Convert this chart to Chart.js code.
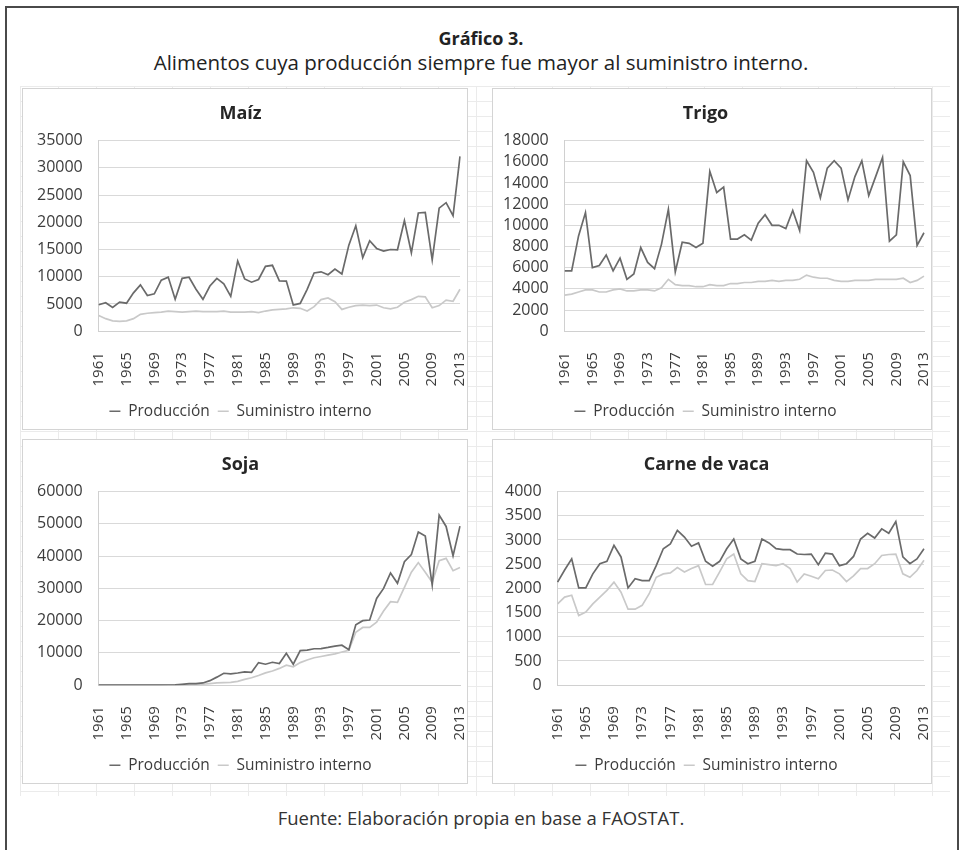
<!DOCTYPE html>
<html>
<head>
<meta charset="utf-8">
<script src="https://cdn.jsdelivr.net/npm/chart.js@4.4.1/dist/chart.umd.min.js"></script>
<style>
  body { margin: 0; background: #fff; font-family: "Open Sans", sans-serif; }
  .frame { position: absolute; left: 5px; top: 6px; width: 950px; height: 900px;
           border-left: 2px solid #4a4a4a; border-top: 2px solid #4a4a4a; border-right: 2px solid #4a4a4a; }
  .sheet { position: absolute; left: 20px; top: 86px; width: 930px; height: 710px;
           background-image: linear-gradient(#ebebeb 1px, transparent 1px), linear-gradient(90deg, #ebebeb 1px, transparent 1px);
           background-size: 38px 15px; }
  .panel { position: absolute; background: #fff; border: 1px solid #d4d4d4; box-sizing: border-box; }
  .h1 { position: absolute; left: 0; width: 962px; top: 26px; text-align: center; font-weight: bold; font-size: 18px; color: #222; }
  .h2 { position: absolute; left: 0; width: 962px; top: 48px; text-align: center; font-size: 20.5px; color: #222; }
  .foot { position: absolute; left: 0; width: 962px; top: 805px; text-align: center; font-size: 18.5px; color: #333; }
</style>
</head>
<body>
<div class="frame"></div>
<div class="sheet"></div>
<div class="h1">Gráfico 3.</div>
<div class="h2">Alimentos cuya producción siempre fue mayor al suministro interno.</div>
<div class="panel" style="left:22px;top:88px;width:446px;height:342px"><canvas id="c1"></canvas></div>
<div class="panel" style="left:492px;top:88px;width:440px;height:342px"><canvas id="c2"></canvas></div>
<div class="panel" style="left:22px;top:439px;width:446px;height:345px"><canvas id="c3"></canvas></div>
<div class="panel" style="left:492px;top:439px;width:440px;height:345px"><canvas id="c4"></canvas></div>
<div class="foot">Fuente: Elaboración propia en base a FAOSTAT.</div>
<script>
const years = ['1961','1962','1963','1964','1965','1966','1967','1968','1969','1970',
  '1971','1972','1973','1974','1975','1976','1977','1978','1979','1980',
  '1981','1982','1983','1984','1985','1986','1987','1988','1989','1990',
  '1991','1992','1993','1994','1995','1996','1997','1998','1999','2000',
  '2001','2002','2003','2004','2005','2006','2007','2008','2009','2010',
  '2011','2012','2013'];

// miles de toneladas
const maizProd = [4850,5220,4360,5350,5140,7040,8510,6560,6860,9360,
  9930,5860,9700,9900,7700,5860,8300,9700,8700,6400,
  12900,9600,9000,9500,11900,12100,9250,9200,4800,5100,
  7680,10700,10900,10360,11400,10500,15800,19360,13500,16600,
  15200,14700,15000,14950,20300,14400,21700,21800,13100,22600,
  23600,21200,32100];
const maizSum = [2900,2300,1900,1800,1900,2300,3100,3300,3400,3500,
  3700,3600,3500,3600,3700,3600,3600,3600,3700,3500,
  3500,3500,3600,3400,3700,3900,4000,4100,4300,4200,
  3700,4500,5800,6100,5400,4000,4400,4700,4800,4700,
  4800,4300,4100,4400,5300,5800,6400,6300,4300,4700,
  5700,5500,7700];

const trigoProd = [5700,5700,9000,11200,6000,6200,7200,5700,6900,4900,
  5400,7900,6500,5900,8200,11500,5600,8400,8300,7900,
  8300,15100,13100,13600,8700,8700,9100,8600,10200,11000,
  10000,10000,9700,11400,9500,16100,15000,12600,15400,16100,
  15400,12400,14600,16100,12800,14600,16400,8500,9100,16000,
  14700,8100,9300];
const trigoSum = [3400,3500,3700,3900,3900,3700,3700,3900,4000,3800,
  3800,3900,3900,3800,4100,4900,4400,4300,4300,4200,
  4200,4400,4300,4300,4500,4500,4600,4600,4700,4700,
  4800,4700,4800,4800,4900,5300,5100,5000,5000,4800,
  4700,4700,4800,4800,4800,4900,4900,4900,4900,5000,
  4600,4800,5200];

const sojaProd = [1,1,1,20,17,20,20,22,32,27,
  59,78,272,496,485,695,1400,2500,3700,3500,
  3770,4150,4000,7000,6500,7100,6700,9900,6500,10700,
  10860,11300,11350,11700,12100,12400,11000,18700,20000,20200,
  26900,30000,34800,31600,38300,40500,47500,46200,31000,52700,
  49200,40100,49300];
const sojaSum = [0,0,0,10,10,10,10,10,20,20,
  40,60,150,250,300,300,500,700,800,900,
  1200,1800,2300,3000,3800,4400,5200,6200,5700,7000,
  7800,8500,8900,9300,9700,10300,10800,16400,17900,17900,
  19500,23000,25900,25700,30300,35000,38000,35000,31900,38600,
  39300,35500,36500];

const carneProd = [2130,2380,2610,2010,2010,2300,2510,2560,2890,2650,
  2010,2200,2160,2160,2470,2820,2920,3200,3060,2870,
  2940,2560,2460,2560,2820,3020,2610,2510,2560,3020,
  2940,2820,2800,2800,2710,2700,2710,2490,2730,2710,
  2470,2510,2660,3020,3140,3040,3230,3140,3380,2650,
  2510,2610,2820];
const carneSum = [1680,1820,1860,1440,1510,1680,1820,1960,2130,1920,
  1570,1570,1650,1890,2230,2300,2320,2430,2340,2410,
  2470,2080,2080,2340,2610,2710,2300,2160,2140,2510,
  2490,2470,2510,2410,2130,2300,2250,2200,2370,2380,
  2300,2140,2260,2410,2410,2510,2680,2700,2710,2300,
  2230,2370,2580];

const darkGray = '#6a6a6a';
const lightGray = '#c9c9c9';
const textCol = '#3c3c3c';

function makeChart(id, title, prod, sum, yMax, yStep, padLeft) {
  return new Chart(document.getElementById(id), {
    type: 'line',
    data: {
      labels: years,
      datasets: [
        { label: 'Producción', data: prod, borderColor: darkGray, backgroundColor: darkGray,
          borderWidth: 1.7, pointRadius: 0, tension: 0 },
        { label: 'Suministro interno', data: sum, borderColor: lightGray, backgroundColor: lightGray,
          borderWidth: 1.7, pointRadius: 0, tension: 0 }
      ]
    },
    options: {
      responsive: true,
      maintainAspectRatio: false,
      animation: false,
      layout: { padding: { left: padLeft, right: 7, top: 0, bottom: 0 } },
      plugins: {
        title: { display: true, text: title, color: '#262626',
                 font: { family: 'Open Sans', size: 18, weight: 'bold' }, padding: { top: 14, bottom: 16 } },
        legend: {
          position: 'bottom',
          labels: { usePointStyle: true, pointStyle: 'line', pointStyleWidth: 11, color: textCol,
                    font: { family: 'Open Sans', size: 15.5 }, padding: 8 }
        },
        tooltip: { enabled: false }
      },
      scales: {
        x: {
          grid: { display: false, drawTicks: false },
          border: { display: true, color: '#d0d0d0' },
          ticks: {
            autoSkip: false, minRotation: 90, maxRotation: 90, padding: 21, color: textCol,
            font: { family: 'Open Sans', size: 15 },
            callback: function (v, i) { return i % 4 === 0 ? years[i] : null; }
          },
          afterFit: function (scale) {
            scale.paddingLeft = 0;
            scale.paddingRight = 0;
            scale.height = scale.height - 12;
          }
        },
        y: {
          min: 0, max: yMax,
          grid: { color: '#d9d9d9', drawTicks: false },
          border: { display: true, color: '#d0d0d0' },
          ticks: { stepSize: yStep, autoSkip: false, padding: 16, color: textCol,
                   font: { family: 'Open Sans', size: 16 },
                   callback: function (v) { return String(v); } }
        }
      }
    }
  });
}

makeChart('c1', 'Maíz', maizProd, maizSum, 35000, 5000, -2);
makeChart('c2', 'Trigo', trigoProd, trigoSum, 18000, 2000, -6);
makeChart('c3', 'Soja', sojaProd, sojaSum, 60000, 10000, -2);
makeChart('c4', 'Carne de vaca', carneProd, carneSum, 4000, 500, -4);
</script>
</body>
</html>
